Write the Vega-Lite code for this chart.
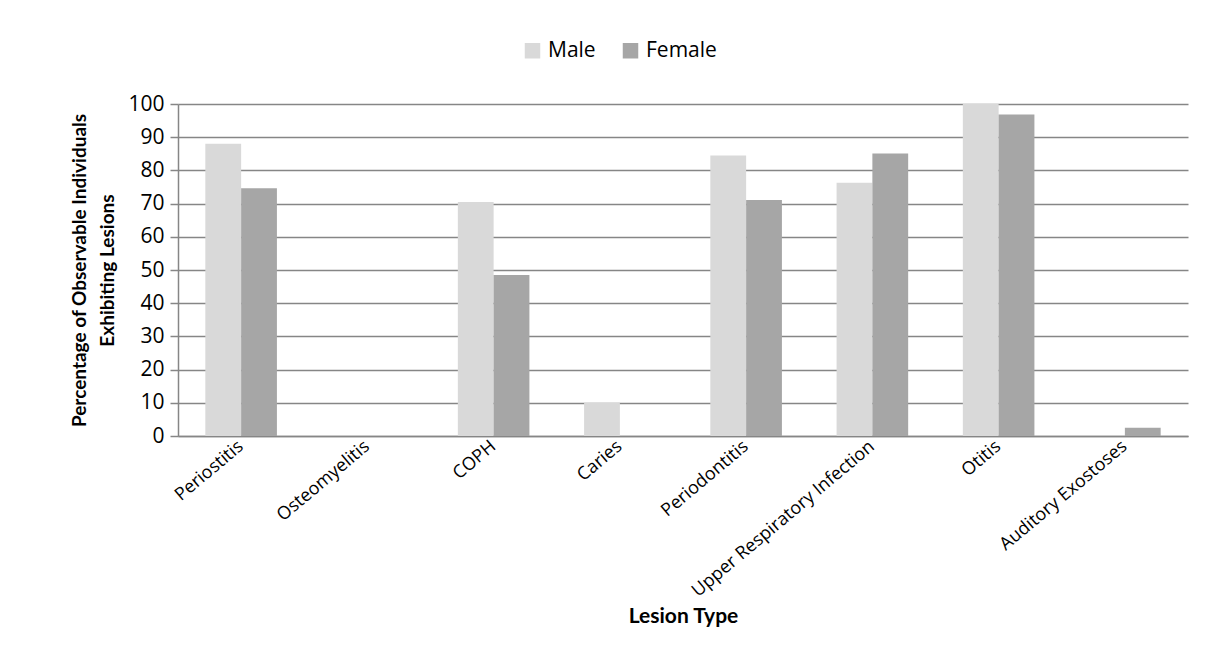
{
  "$schema": "https://vega.github.io/schema/vega-lite/v6.json",
  "width": 1010,
  "height": 332,
  "autosize": {"type": "none"},
  "padding": {"left": 178, "top": 104, "right": 24, "bottom": 217},
  "background": "white",
  "config": {
    "font": "Open Sans",
    "view": {"stroke": null}
  },
  "data": {
    "values": [
      {"lesion": "Periostitis", "sex": "Male", "pct": 88.0},
      {"lesion": "Periostitis", "sex": "Female", "pct": 74.6},
      {"lesion": "Osteomyelitis", "sex": "Male", "pct": 0},
      {"lesion": "Osteomyelitis", "sex": "Female", "pct": 0},
      {"lesion": "COPH", "sex": "Male", "pct": 70.5},
      {"lesion": "COPH", "sex": "Female", "pct": 48.5},
      {"lesion": "Caries", "sex": "Male", "pct": 10.0},
      {"lesion": "Caries", "sex": "Female", "pct": 0},
      {"lesion": "Periodontitis", "sex": "Male", "pct": 84.5},
      {"lesion": "Periodontitis", "sex": "Female", "pct": 71.1},
      {"lesion": "Upper Respiratory Infection", "sex": "Male", "pct": 76.3},
      {"lesion": "Upper Respiratory Infection", "sex": "Female", "pct": 85.1},
      {"lesion": "Otitis", "sex": "Male", "pct": 100},
      {"lesion": "Otitis", "sex": "Female", "pct": 96.8},
      {"lesion": "Auditory Exostoses", "sex": "Male", "pct": 0},
      {"lesion": "Auditory Exostoses", "sex": "Female", "pct": 2.5}
    ]
  },
  "mark": {"type": "bar"},
  "encoding": {
    "x": {
      "field": "lesion",
      "type": "nominal",
      "sort": null,
      "title": "Lesion Type",
      "scale": {"paddingInner": 0.433, "paddingOuter": 0.2165},
      "axis": {
        "labelAngle": -40,
        "labelAlign": "right",
        "labelBaseline": "middle",
        "labelFontSize": 18,
        "labelColor": "#000000",
        "labelPadding": 8,
        "labelLimit": 500,
        "ticks": false,
        "domainColor": "#868686",
        "domainWidth": 1.5,
        "titleFont": "Lato",
        "titleFontSize": 21,
        "titleFontWeight": "bold",
        "titleColor": "#000000",
        "titleY": 180,
        "titleBaseline": "middle"
      }
    },
    "xOffset": {
      "field": "sex",
      "sort": ["Male", "Female"],
      "scale": {"paddingInner": 0, "paddingOuter": 0}
    },
    "y": {
      "field": "pct",
      "type": "quantitative",
      "scale": {"domain": [0, 100]},
      "title": ["Percentage of Observable Individuals", "Exhibiting Lesions"],
      "axis": {
        "values": [0, 10, 20, 30, 40, 50, 60, 70, 80, 90, 100],
        "grid": true,
        "gridColor": "#868686",
        "gridWidth": 1.5,
        "domainColor": "#868686",
        "domainWidth": 1.5,
        "tickColor": "#868686",
        "tickWidth": 1.5,
        "tickSize": 8,
        "labelFontSize": 21,
        "labelColor": "#000000",
        "labelPadding": 6,
        "titleFont": "Lato",
        "titleFontSize": 19,
        "titleFontWeight": "bold",
        "titleColor": "#000000",
        "titlePadding": 10,
        "titleLineHeight": 28
      }
    },
    "color": {
      "field": "sex",
      "type": "nominal",
      "sort": ["Male", "Female"],
      "scale": {"domain": ["Male", "Female"], "range": ["#D9D9D9", "#A6A6A6"]},
      "legend": {
        "orient": "none",
        "direction": "horizontal",
        "legendX": 344,
        "legendY": -64,
        "title": null,
        "symbolType": "square",
        "symbolSize": 240,
        "symbolStrokeWidth": 0,
        "labelFontSize": 21,
        "labelColor": "#000000",
        "columnPadding": 24,
        "labelOffset": 5
      }
    }
  }
}
